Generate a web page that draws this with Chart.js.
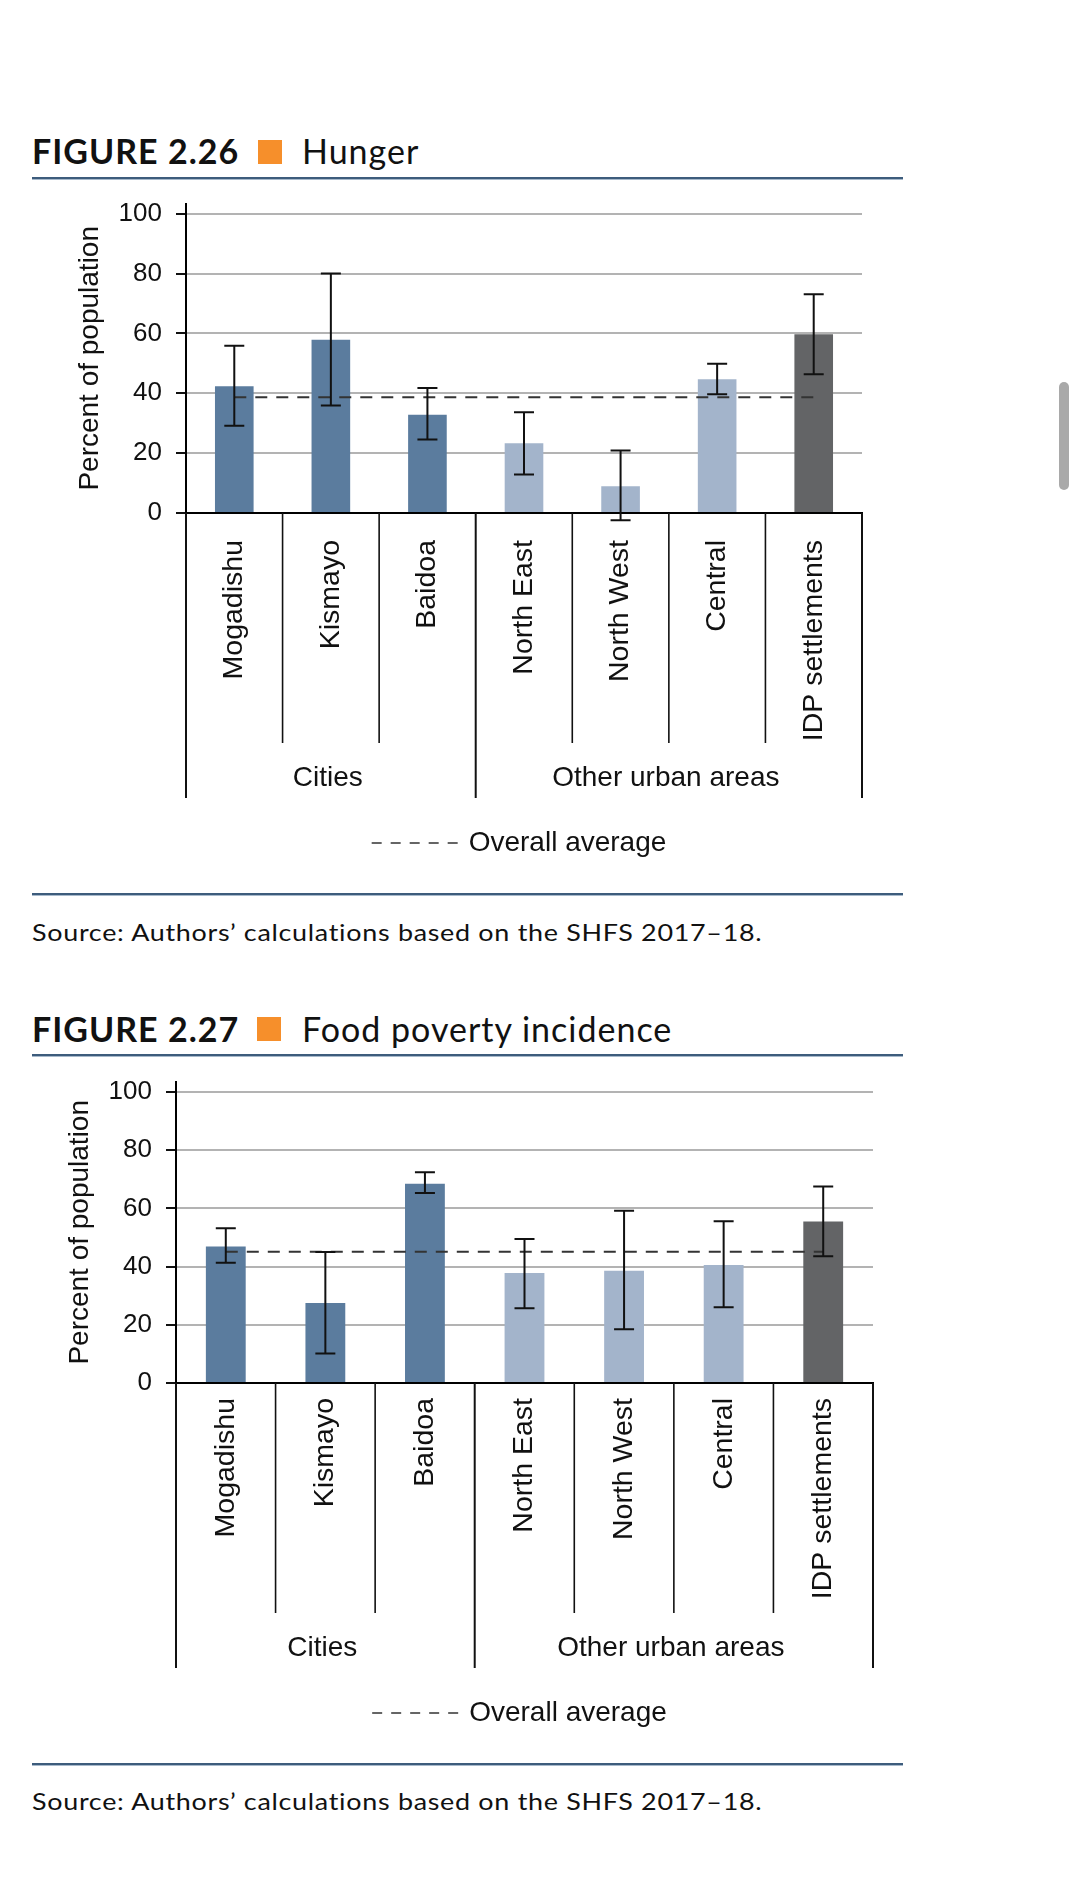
<!DOCTYPE html>
<html>
<head>
<meta charset="utf-8">
<title>Hunger and food poverty</title>
<script src="https://cdn.jsdelivr.net/npm/chart.js@4.4.1/dist/chart.umd.min.js"></script>
<style>
  html, body { margin: 0; padding: 0; background: #fff; }
  body { position: relative; width: 1077px; height: 1881px; overflow: hidden; font-family: Lato, "Open Sans", sans-serif; color: #111; }
  .abs { position: absolute; white-space: nowrap; line-height: 1; }
  .fig { font-weight: 700; font-size: 34px; left: 32px; letter-spacing: 1px; }
  .sub { font-weight: 400; font-size: 34px; left: 302px; letter-spacing: 1px; }
  .mark { position: absolute; width: 24px; height: 24px; background: #f68f2b; }
  .rule { position: absolute; left: 32px; width: 871px; height: 2px; background: #3d5c7c; border-bottom: 1px solid #a7b9cb; }
  .src { font-size: 23px; left: 32px; letter-spacing: 0.6px; transform: scaleX(1.17); transform-origin: 0 0; }
  canvas { position: absolute; left: 0; }
  .scroll { position: absolute; left: 1059px; top: 382px; width: 10px; height: 108px; border-radius: 5px; background: #a9a9a9; }
</style>
</head>
<body>
  <div class="abs fig" style="top:134px">FIGURE 2.26</div>
  <div class="mark" style="left:258px; top:140px"></div>
  <div class="abs sub" style="top:134px">Hunger</div>
  <div class="rule" style="top:177px"></div>
  <canvas id="hunger" width="920" height="696" style="top:174px; width:920px; height:696px"></canvas>
  <div class="rule" style="top:893px"></div>
  <div class="abs src" style="top:921px">Source: Authors’ calculations based on the SHFS 2017–18.</div>

  <div class="abs fig" style="top:1012px">FIGURE 2.27</div>
  <div class="mark" style="left:257px; top:1017px"></div>
  <div class="abs sub" style="top:1012px">Food poverty incidence</div>
  <div class="rule" style="top:1054px"></div>
  <canvas id="food" width="920" height="688" style="top:1052px; width:920px; height:688px"></canvas>
  <div class="rule" style="top:1763px"></div>
  <div class="abs src" style="top:1790px">Source: Authors’ calculations based on the SHFS 2017–18.</div>

  <div class="scroll"></div>

<script>
const categories = ['Mogadishu', 'Kismayo', 'Baidoa', 'North East', 'North West', 'Central', 'IDP settlements'];
const groupLabels = ['Cities', 'Other urban areas'];
const groupSizes = [3, 4];
const yTicks = [0, 20, 40, 60, 80, 100];
const averageLabel = 'Overall average';

// Figure 2.26 Hunger
const hungerValues = [42.4, 57.9, 32.8, 23.3, 8.9, 44.7, 59.7];
const hungerLow = [29.2, 35.9, 24.6, 12.9, -2.4, 39.7, 46.4];
const hungerHigh = [55.9, 80.0, 41.8, 33.7, 20.9, 49.9, 73.1];
const hungerAverage = 38.7;

// Figure 2.27 Food poverty incidence
const foodValues = [46.9, 27.5, 68.5, 37.8, 38.6, 40.6, 55.5];
const foodLow = [41.3, 10.1, 65.3, 25.7, 18.5, 26.0, 43.6];
const foodHigh = [53.2, 45.0, 72.4, 49.5, 59.2, 55.6, 67.5];
const foodAverage = 45.1;

const DARK = '#5b7c9e', LIGHT = '#a3b4cb', GREY = '#636466';
const barColors = [DARK, DARK, DARK, LIGHT, LIGHT, LIGHT, GREY];
const FONT = '"Liberation Sans", Arial, sans-serif';

Chart.defaults.font.family = FONT;
Chart.defaults.color = '#111';

function errorBars(low, high) {
  return {
    id: 'errorBars',
    afterDatasetsDraw(chart) {
      const ctx = chart.ctx;
      const y = chart.scales.y;
      const meta = chart.getDatasetMeta(1);
      ctx.save();
      ctx.strokeStyle = '#111';
      ctx.lineWidth = 2;
      meta.data.forEach((bar, i) => {
        const top = y.getPixelForValue(high[i]);
        const bot = y.getPixelForValue(low[i]);
        ctx.beginPath();
        ctx.moveTo(bar.x, top); ctx.lineTo(bar.x, bot);
        ctx.moveTo(bar.x - 10, top); ctx.lineTo(bar.x + 10, top);
        ctx.moveTo(bar.x - 10, bot); ctx.lineTo(bar.x + 10, bot);
        ctx.stroke();
      });
      ctx.restore();
    }
  };
}

// category dividers, group labels and the legend under the axis
const groupAxis = {
  id: 'groupAxis',
  afterDraw(chart) {
    const ctx = chart.ctx;
    const x = chart.scales.x;
    const n = categories.length;
    const edgeAt = i => {
      if (i === 0) return x.left;
      if (i === n) return x.right;
      return (x.getPixelForValue(i - 1) + x.getPixelForValue(i)) / 2;
    };
    const groupEdges = [0];
    groupSizes.forEach(s => groupEdges.push(groupEdges[groupEdges.length - 1] + s));

    ctx.save();
    ctx.strokeStyle = '#111';
    for (let i = 0; i <= n; i++) {
      const outer = groupEdges.includes(i);
      const px = edgeAt(i);
      ctx.lineWidth = outer ? 2 : 1.6;
      ctx.beginPath();
      ctx.moveTo(px, x.top);
      ctx.lineTo(px, outer ? x.bottom : x.top + 230);
      ctx.stroke();
    }

    ctx.fillStyle = '#111';
    ctx.textAlign = 'center';
    ctx.textBaseline = 'middle';
    ctx.font = '28px ' + FONT;
    groupLabels.forEach((g, k) => {
      const cx = (edgeAt(groupEdges[k]) + edgeAt(groupEdges[k + 1])) / 2 - 3;
      ctx.fillText(g, cx, x.bottom - 20);
    });

    // legend: dashed sample + label
    const ly = x.bottom + 45;
    const tw = ctx.measureText(averageLabel).width;
    const dashW = 86, gap = 11;
    const start = (chart.chartArea.left + chart.chartArea.right) / 2 - 5 - (dashW + gap + tw) / 2;
    ctx.strokeStyle = '#333';
    ctx.lineWidth = 1.5;
    ctx.setLineDash([10, 9]);
    ctx.beginPath();
    ctx.moveTo(start, ly);
    ctx.lineTo(start + dashW, ly);
    ctx.stroke();
    ctx.setLineDash([]);
    ctx.textAlign = 'left';
    ctx.fillText(averageLabel, start + dashW + gap, ly);
    ctx.restore();
  }
};

function makeChart(id, values, low, high, average, cfg) {
  return new Chart(document.getElementById(id), {
    type: 'bar',
    data: {
      labels: categories,
      datasets: [
        {
          type: 'line',
          label: averageLabel,
          data: categories.map(() => average),
          borderColor: '#333',
          borderWidth: 2,
          borderDash: [12, 9],
          pointRadius: 0,
          fill: false,
          order: 0
        },
        {
          type: 'bar',
          label: 'Percent of population',
          data: values,
          backgroundColor: barColors,
          barPercentage: 0.4,
          categoryPercentage: 1,
          order: 1
        }
      ]
    },
    options: {
      responsive: false,
      animation: false,
      layout: { padding: { top: 0, left: cfg.padLeft, right: cfg.padRight, bottom: 72 } },
      plugins: { legend: { display: false }, tooltip: { enabled: false } },
      scales: {
        x: {
          grid: { display: false, drawTicks: false },
          border: { color: '#000', width: 2 },
          ticks: { minRotation: 90, maxRotation: 90, autoSkip: false, padding: cfg.labelPad, font: { size: 28.5 }, color: '#111' },
          afterFit(scale) { scale.height = 285; }
        },
        y: {
          min: 0,
          max: cfg.max,
          afterBuildTicks(scale) { scale.ticks = yTicks.map(v => ({ value: v })); },
          afterFit(scale) { scale.width = 113; },
          grid: {
            color: c => (c.tick && c.tick.value === 0 ? '#000' : '#b3b3b3'),
            lineWidth: 2,
            tickColor: '#111',
            tickWidth: 2,
            tickLength: 10
          },
          border: { color: '#000', width: 2 },
          ticks: { padding: 14, font: { size: 26 }, color: '#111' },
          title: { display: true, text: 'Percent of population', font: { size: 28 }, color: '#111', padding: { top: 0, bottom: 0 } }
        }
      }
    },
    plugins: [errorBars(low, high), groupAxis]
  });
}

makeChart('hunger', hungerValues, hungerLow, hungerHigh, hungerAverage, { padLeft: 73, padRight: 58, labelPad: 27, max: 103.4 });
makeChart('food', foodValues, foodLow, foodHigh, foodAverage, { padLeft: 63, padRight: 47, labelPad: 15, max: 103.6 });
</script>
</body>
</html>
